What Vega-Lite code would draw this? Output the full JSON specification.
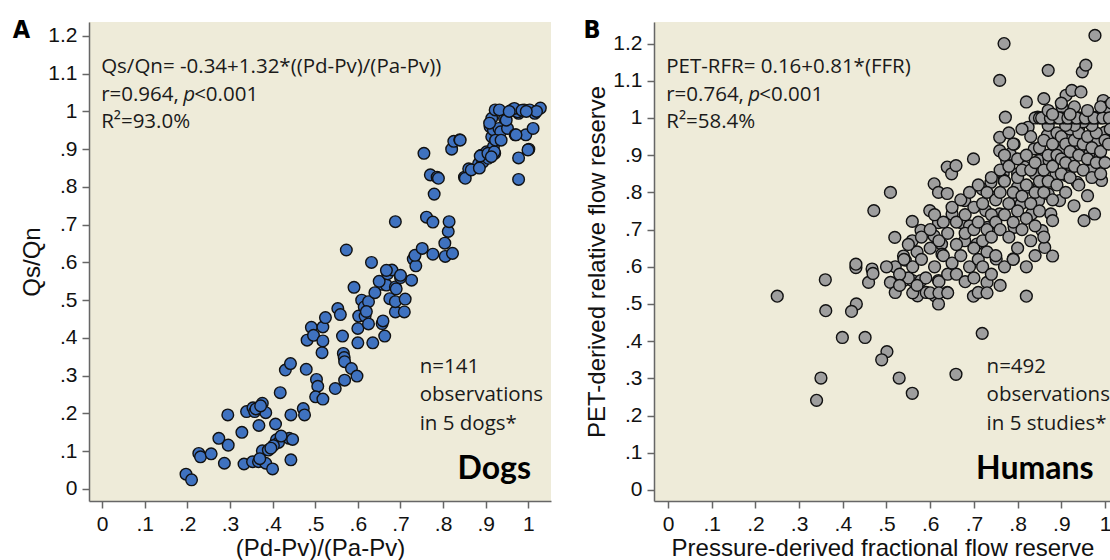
{
"$schema": "https://vega.github.io/schema/vega-lite/v6.json",
"background": "white",
"padding": {"left": 12, "top": 18, "right": 0, "bottom": 0},
"spacing": 103,
"bounds": "flush",
"datasets": {
"dogs": [
{"x":0.197,"y":0.039},{"x":0.21,"y":0.024},{"x":0.227,"y":0.094},{"x":0.231,"y":0.085},{"x":0.256,"y":0.093},{"x":0.274,"y":0.134},{"x":0.295,"y":0.196},{"x":0.296,"y":0.116},{"x":0.287,"y":0.068},{"x":0.328,"y":0.15},{"x":0.333,"y":0.066},{"x":0.339,"y":0.205},{"x":0.354,"y":0.215},{"x":0.358,"y":0.205},{"x":0.353,"y":0.072},{"x":0.367,"y":0.072},{"x":0.368,"y":0.168},{"x":0.376,"y":0.227},{"x":0.384,"y":0.202},{"x":0.376,"y":0.101},{"x":0.384,"y":0.068},{"x":0.39,"y":0.103},{"x":0.4,"y":0.053},{"x":0.407,"y":0.172},{"x":0.409,"y":0.13},{"x":0.414,"y":0.123},{"x":0.418,"y":0.255},{"x":0.43,"y":0.315},{"x":0.442,"y":0.332},{"x":0.439,"y":0.134},{"x":0.443,"y":0.196},{"x":0.443,"y":0.077},{"x":0.447,"y":0.131},{"x":0.472,"y":0.213},{"x":0.475,"y":0.196},{"x":0.479,"y":0.317},{"x":0.481,"y":0.394},{"x":0.491,"y":0.428},{"x":0.496,"y":0.407},{"x":0.503,"y":0.29},{"x":0.506,"y":0.272},{"x":0.501,"y":0.244},{"x":0.518,"y":0.238},{"x":0.516,"y":0.361},{"x":0.518,"y":0.392},{"x":0.518,"y":0.429},{"x":0.524,"y":0.454},{"x":0.547,"y":0.266},{"x":0.553,"y":0.478},{"x":0.559,"y":0.462},{"x":0.564,"y":0.405},{"x":0.566,"y":0.359},{"x":0.568,"y":0.348},{"x":0.569,"y":0.288},{"x":0.569,"y":0.337},{"x":0.585,"y":0.319},{"x":0.591,"y":0.534},{"x":0.598,"y":0.299},{"x":0.6,"y":0.425},{"x":0.6,"y":0.387},{"x":0.602,"y":0.458},{"x":0.609,"y":0.5},{"x":0.615,"y":0.482},{"x":0.617,"y":0.458},{"x":0.625,"y":0.496},{"x":0.625,"y":0.437},{"x":0.635,"y":0.387},{"x":0.657,"y":0.438},{"x":0.659,"y":0.445},{"x":0.663,"y":0.405},{"x":0.657,"y":0.542},{"x":0.667,"y":0.54},{"x":0.675,"y":0.504},{"x":0.688,"y":0.469},{"x":0.688,"y":0.496},{"x":0.688,"y":0.535},{"x":0.709,"y":0.469},{"x":0.711,"y":0.503},{"x":0.726,"y":0.553},
{"x":0.361,"y":0.212},{"x":0.372,"y":0.22},{"x":0.402,"y":0.115},{"x":0.396,"y":0.108},{"x":0.42,"y":0.14},{"x":0.37,"y":0.08},{"x":0.62,"y":0.47},{"x":0.64,"y":0.52},{"x":0.65,"y":0.55},{"x":0.67,"y":0.57},{"x":0.68,"y":0.58},{"x":0.7,"y":0.56},{"x":0.69,"y":0.53},
{"x":0.573,"y":0.633},{"x":0.632,"y":0.6},{"x":0.667,"y":0.579},{"x":0.7,"y":0.566},{"x":0.688,"y":0.708},{"x":0.73,"y":0.609},{"x":0.736,"y":0.591},{"x":0.734,"y":0.619},{"x":0.751,"y":0.637},{"x":0.755,"y":0.889},{"x":0.761,"y":0.72},{"x":0.776,"y":0.707},{"x":0.77,"y":0.832},{"x":0.786,"y":0.826},{"x":0.779,"y":0.781},{"x":0.776,"y":0.622},{"x":0.804,"y":0.651},{"x":0.805,"y":0.616},{"x":0.812,"y":0.682},{"x":0.814,"y":0.708},{"x":0.822,"y":0.624},{"x":0.82,"y":0.9},{"x":0.825,"y":0.921},{"x":0.839,"y":0.925},{"x":0.85,"y":0.826},{"x":0.86,"y":0.848},{"x":0.883,"y":0.861},{"x":0.889,"y":0.884},{"x":0.893,"y":0.866},{"x":0.902,"y":0.893},{"x":0.906,"y":0.876},{"x":0.91,"y":0.96},{"x":0.914,"y":0.933},{"x":0.918,"y":0.907},{"x":0.921,"y":0.889},{"x":0.914,"y":0.982},{"x":0.922,"y":1.004},{"x":0.918,"y":0.951},{"x":0.931,"y":0.955},{"x":0.935,"y":0.946},{"x":0.944,"y":0.982},{"x":0.951,"y":0.955},{"x":0.961,"y":1.004},{"x":0.969,"y":0.938},{"x":0.977,"y":0.995},{"x":0.977,"y":0.877},{"x":0.977,"y":0.82},{"x":0.99,"y":1.004},{"x":0.994,"y":0.938},{"x":1.001,"y":0.9},{"x":1.003,"y":1.004},{"x":1.011,"y":0.955},{"x":1.015,"y":0.995},{"x":1.028,"y":1.009},{"x":1.019,"y":1.0},
{"x":0.84,"y":0.924},{"x":0.789,"y":0.823},{"x":0.852,"y":0.823},{"x":0.866,"y":0.845},{"x":0.885,"y":0.85},{"x":0.887,"y":0.882},{"x":0.905,"y":0.889},{"x":0.92,"y":0.893},{"x":0.923,"y":0.924},{"x":0.936,"y":0.924},{"x":0.948,"y":0.977},{"x":0.932,"y":1.004},{"x":0.975,"y":0.999},{"x":0.971,"y":0.938},{"x":0.967,"y":1.008},{"x":0.909,"y":0.969},{"x":0.913,"y":0.88},{"x":0.999,"y":0.898},{"x":0.985,"y":1.003},{"x":0.995,"y":1.0},{"x":0.955,"y":1.0}
],
"humans": [
{"x":0.25,"y":0.521},{"x":0.36,"y":0.565},{"x":0.361,"y":0.482},{"x":0.35,"y":0.301},{"x":0.34,"y":0.241},{"x":0.399,"y":0.41},{"x":0.451,"y":0.41},{"x":0.431,"y":0.5},{"x":0.42,"y":0.48},{"x":0.501,"y":0.372},{"x":0.489,"y":0.35},{"x":0.529,"y":0.301},{"x":0.559,"y":0.26},{"x":0.659,"y":0.311},{"x":0.719,"y":0.421},{"x":0.82,"y":0.521},{"x":0.699,"y":0.521},{"x":0.71,"y":0.531},{"x":0.73,"y":0.558},{"x":0.459,"y":0.558},{"x":0.509,"y":0.558},{"x":0.52,"y":0.531},{"x":0.539,"y":0.563},{"x":0.559,"y":0.563},{"x":0.571,"y":0.522},{"x":0.591,"y":0.531},{"x":0.611,"y":0.522},{"x":0.619,"y":0.5},{"x":0.639,"y":0.531},{"x":0.579,"y":0.563},{"x":0.619,"y":0.563},
{"x":0.43,"y":0.598},{"x":0.43,"y":0.607},{"x":0.467,"y":0.594},{"x":0.469,"y":0.582},{"x":0.471,"y":0.751},{"x":0.509,"y":0.8},{"x":0.519,"y":0.679},{"x":0.52,"y":0.6},{"x":0.539,"y":0.629},{"x":0.543,"y":0.618},{"x":0.559,"y":0.67},{"x":0.559,"y":0.722},{"x":0.579,"y":0.698},{"x":0.599,"y":0.751},{"x":0.609,"y":0.823},{"x":0.619,"y":0.8},{"x":0.639,"y":0.797},{"x":0.639,"y":0.868},{"x":0.649,"y":0.85},{"x":0.659,"y":0.872},{"x":0.609,"y":0.683},{"x":0.619,"y":0.719},{"x":0.626,"y":0.661},{"x":0.627,"y":0.634},{"x":0.65,"y":0.742},{"x":0.679,"y":0.778},{"x":0.671,"y":0.719},{"x":0.679,"y":0.67},{"x":0.699,"y":0.89},{"x":0.707,"y":0.661},{"x":0.69,"y":0.71},{"x":0.719,"y":0.809},{"x":0.727,"y":0.751},{"x":0.739,"y":0.827},{"x":0.731,"y":0.706},{"x":0.749,"y":0.787},{"x":0.751,"y":0.621},{"x":0.759,"y":0.742},{"x":0.759,"y":0.948},{"x":0.759,"y":1.101},{"x":0.769,"y":1.2},{"x":0.772,"y":1.002},{"x":0.759,"y":0.912},{"x":0.767,"y":0.85},{"x":0.769,"y":0.832},{"x":0.775,"y":0.886},{"x":0.783,"y":0.903},{"x":0.792,"y":0.93},{"x":0.792,"y":0.778},{"x":0.79,"y":0.621},{"x":0.792,"y":0.706},{"x":0.8,"y":0.85},{"x":0.8,"y":0.814},{"x":0.808,"y":0.769},{"x":0.816,"y":0.868},{"x":0.82,"y":1.043},{"x":0.824,"y":0.975},{"x":0.824,"y":0.814},{"x":0.832,"y":0.742},{"x":0.838,"y":0.917},{"x":0.84,"y":0.85},{"x":0.846,"y":1.002},{"x":0.848,"y":0.778},{"x":0.849,"y":0.886},{"x":0.856,"y":0.697},{"x":0.86,"y":1.052},{"x":0.862,"y":0.652},{"x":0.868,"y":0.953},{"x":0.87,"y":1.128},{"x":0.87,"y":0.796},{"x":0.872,"y":0.886},{"x":0.876,"y":0.742},{"x":0.88,"y":0.724},{"x":0.88,"y":0.629},{"x":0.888,"y":0.85},{"x":0.892,"y":1.002},{"x":0.896,"y":0.778},{"x":0.9,"y":0.912},{"x":0.902,"y":1.029},{"x":0.911,"y":1.061},{"x":0.912,"y":0.845},{"x":0.916,"y":0.957},{"x":0.92,"y":0.886},{"x":0.924,"y":1.074},{"x":0.929,"y":0.764},{"x":0.932,"y":1.002},{"x":0.936,"y":0.827},{"x":0.94,"y":0.975},{"x":0.942,"y":0.93},{"x":0.945,"y":1.07},{"x":0.948,"y":1.124},{"x":0.952,"y":0.724},{"x":0.956,"y":1.142},{"x":0.956,"y":1.002},{"x":0.96,"y":0.791},{"x":0.964,"y":0.903},{"x":0.968,"y":0.859},{"x":0.976,"y":0.742},{"x":0.977,"y":1.222},{"x":0.98,"y":1.002},{"x":0.984,"y":0.939},{"x":0.988,"y":0.894},{"x":0.992,"y":0.832},{"x":0.996,"y":1.047},{"x":1.0,"y":1.002},{"x":1.0,"y":0.962},{"x":1.004,"y":1.029},
{"x":0.55,"y":0.57},{"x":0.56,"y":0.6},{"x":0.57,"y":0.64},{"x":0.58,"y":0.62},{"x":0.58,"y":0.68},{"x":0.59,"y":0.57},{"x":0.6,"y":0.65},{"x":0.6,"y":0.7},{"x":0.61,"y":0.6},{"x":0.61,"y":0.74},{"x":0.62,"y":0.67},{"x":0.62,"y":0.56},{"x":0.63,"y":0.63},{"x":0.63,"y":0.72},{"x":0.64,"y":0.58},{"x":0.64,"y":0.69},{"x":0.65,"y":0.61},{"x":0.65,"y":0.76},{"x":0.56,"y":0.53},{"x":0.57,"y":0.55},{"x":0.6,"y":0.53},{"x":0.62,"y":0.53},{"x":0.64,"y":0.53},{"x":0.55,"y":0.66},{"x":0.53,"y":0.58},{"x":0.54,"y":0.62},{"x":0.5,"y":0.6},{"x":0.53,"y":0.55},
{"x":0.66,"y":0.66},{"x":0.66,"y":0.72},{"x":0.67,"y":0.63},{"x":0.67,"y":0.78},{"x":0.68,"y":0.69},{"x":0.68,"y":0.74},{"x":0.69,"y":0.6},{"x":0.69,"y":0.8},{"x":0.7,"y":0.65},{"x":0.7,"y":0.7},{"x":0.7,"y":0.76},{"x":0.71,"y":0.62},{"x":0.71,"y":0.72},{"x":0.71,"y":0.82},{"x":0.72,"y":0.67},{"x":0.72,"y":0.77},{"x":0.73,"y":0.7},{"x":0.73,"y":0.64},{"x":0.73,"y":0.8},{"x":0.74,"y":0.74},{"x":0.74,"y":0.68},{"x":0.74,"y":0.84},{"x":0.75,"y":0.72},{"x":0.75,"y":0.78},{"x":0.75,"y":0.63},{"x":0.66,"y":0.58},{"x":0.68,"y":0.56},{"x":0.7,"y":0.57},{"x":0.72,"y":0.6},{"x":0.74,"y":0.58},{"x":0.76,"y":0.55},{"x":0.73,"y":0.53},{"x":0.77,"y":0.6},
{"x":0.76,"y":0.7},{"x":0.76,"y":0.8},{"x":0.76,"y":0.86},{"x":0.77,"y":0.74},{"x":0.77,"y":0.83},{"x":0.77,"y":0.9},{"x":0.78,"y":0.68},{"x":0.78,"y":0.77},{"x":0.78,"y":0.87},{"x":0.79,"y":0.72},{"x":0.79,"y":0.8},{"x":0.79,"y":0.93},{"x":0.8,"y":0.75},{"x":0.8,"y":0.84},{"x":0.8,"y":0.89},{"x":0.81,"y":0.7},{"x":0.81,"y":0.79},{"x":0.81,"y":0.86},{"x":0.82,"y":0.73},{"x":0.82,"y":0.82},{"x":0.82,"y":0.9},{"x":0.83,"y":0.77},{"x":0.83,"y":0.86},{"x":0.83,"y":0.95},{"x":0.84,"y":0.71},{"x":0.84,"y":0.8},{"x":0.84,"y":0.88},{"x":0.85,"y":0.75},{"x":0.85,"y":0.83},{"x":0.85,"y":0.92},{"x":0.78,"y":0.96},{"x":0.81,"y":0.97},{"x":0.8,"y":0.65},{"x":0.83,"y":0.67},{"x":0.84,"y":0.63},{"x":0.86,"y":0.68},{"x":0.79,"y":0.62},{"x":0.82,"y":0.6},
{"x":0.86,"y":0.8},{"x":0.86,"y":0.86},{"x":0.86,"y":0.94},{"x":0.87,"y":0.83},{"x":0.87,"y":0.9},{"x":0.87,"y":0.98},{"x":0.88,"y":0.78},{"x":0.88,"y":0.87},{"x":0.88,"y":0.93},{"x":0.89,"y":0.82},{"x":0.89,"y":0.9},{"x":0.89,"y":0.96},{"x":0.9,"y":0.85},{"x":0.9,"y":0.89},{"x":0.9,"y":0.95},{"x":0.91,"y":0.8},{"x":0.91,"y":0.88},{"x":0.91,"y":0.93},{"x":0.92,"y":0.84},{"x":0.92,"y":0.91},{"x":0.92,"y":0.97},{"x":0.93,"y":0.87},{"x":0.93,"y":0.94},{"x":0.94,"y":0.82},{"x":0.94,"y":0.9},{"x":0.94,"y":0.96},{"x":0.95,"y":0.86},{"x":0.95,"y":0.93},{"x":0.96,"y":0.89},{"x":0.96,"y":0.95},{"x":0.97,"y":0.84},{"x":0.97,"y":0.92},{"x":0.98,"y":0.88},{"x":0.98,"y":0.96},{"x":0.99,"y":0.91},{"x":0.99,"y":0.85},{"x":1.0,"y":0.94},{"x":1.0,"y":0.88},{"x":0.97,"y":0.98},{"x":0.95,"y":0.99},{"x":0.93,"y":0.98},{"x":0.91,"y":0.98},
{"x":0.84,"y":1.0},{"x":0.85,"y":1.0},{"x":0.86,"y":1.0},{"x":0.87,"y":1.0},{"x":0.88,"y":1.0},{"x":0.89,"y":1.0},{"x":0.9,"y":1.0},{"x":0.91,"y":1.0},{"x":0.92,"y":1.0},{"x":0.93,"y":1.0},{"x":0.94,"y":1.0},{"x":0.95,"y":1.0},{"x":0.96,"y":1.0},{"x":0.97,"y":1.0},{"x":0.98,"y":1.0},{"x":0.99,"y":1.0},{"x":0.855,"y":1.0},{"x":0.875,"y":1.0},{"x":0.895,"y":1.0},{"x":0.915,"y":1.0},{"x":0.935,"y":1.0},{"x":0.955,"y":1.0},{"x":0.975,"y":1.0},{"x":0.995,"y":1.0},
{"x":0.87,"y":1.02},{"x":0.9,"y":1.04},{"x":0.93,"y":1.03},{"x":0.96,"y":1.02},{"x":0.99,"y":1.03},{"x":0.88,"y":1.01},{"x":0.92,"y":1.01},
{"x":1.01,"y":1.0},{"x":1.012,"y":0.97},{"x":1.008,"y":0.93},{"x":1.015,"y":1.04}
]
},
"config": {
"view": {"fill": "#EEEBD9", "stroke": null},
"axis": {"grid": false, "domainColor": "#666666", "domainWidth": 1.5, "tickColor": "#666666", "tickWidth": 1.5, "tickSize": 7, "labelFont": "Liberation Sans", "labelFontSize": 21, "labelColor": "#111111", "labelPadding": 5, "labelFlush": false, "labelOverlap": false, "titleFont": "Liberation Sans", "titleFontSize": 24, "titleFontWeight": "normal", "titleColor": "#111111"},
"axisX": {"titlePadding": 2},
"axisY": {"titlePadding": 3}
},
"hconcat": [
{
"width": 462, "height": 479,
"resolve": {"axis": {"x": "independent", "y": "independent"}},
"layer": [
{"data": {"name": "dogs"},
 "mark": {"type": "circle", "size": 135, "fill": "#3F72C0", "stroke": "#111111", "strokeWidth": 1.4, "opacity": 1, "clip": true},
 "encoding": {
  "x": {"field": "x", "type": "quantitative", "title": "(Pd-Pv)/(Pa-Pv)", "scale": {"domain": [-0.0305, 1.053], "nice": false, "zero": false}, "axis": {"values": [0,0.1,0.2,0.3,0.4,0.5,0.6,0.7,0.8,0.9,1], "labelOverlap": false, "labelExpr": "datum.value == 0 ? '0' : datum.value == 1 ? '1' : replace(format(datum.value, '.1f'), '0.', '.')"}},
  "y": {"field": "y", "type": "quantitative", "title": "Qs/Qn", "scale": {"domain": [-0.032, 1.237], "nice": false, "zero": false}, "axis": {"values": [0,0.1,0.2,0.3,0.4,0.5,0.6,0.7,0.8,0.9,1,1.1,1.2], "labelOverlap": false, "labelBound": false, "labelExpr": "datum.value == 0 ? '0' : datum.value == 1 ? '1' : replace(format(datum.value, '.1f'), '0.', '.')"}}
 }},
{"data": {"values": [{}]}, "mark": {"type": "text", "text": "A", "align": "center", "baseline": "alphabetic", "font": "Liberation Sans Narrow, DejaVu Sans Condensed, sans-serif", "fontWeight": "bold", "fontSize": 25, "color": "#000000"}, "encoding": {"x": {"datum": -0.189, "type": "quantitative", "axis": null}, "y": {"datum": 1.194, "type": "quantitative", "axis": null}}},
{"data": {"values": [{}]}, "mark": {"type": "text", "text": "Qs/Qn= -0.34+1.32*((Pd-Pv)/(Pa-Pv))", "align": "left", "baseline": "alphabetic", "font": "Open Sans", "fontSize": 20.5, "color": "#1a1a1a"}, "encoding": {"x": {"datum": -0.002, "type": "quantitative", "axis": null}, "y": {"datum": 1.103, "type": "quantitative", "axis": null}}},
{"data": {"values": [{}]}, "mark": {"type": "text", "text": "r=0.964, ", "align": "left", "baseline": "alphabetic", "font": "Open Sans", "fontSize": 20.5, "color": "#1a1a1a"}, "encoding": {"x": {"datum": -0.002, "type": "quantitative", "axis": null}, "y": {"datum": 1.029, "type": "quantitative", "axis": null}}},
{"data": {"values": [{}]}, "mark": {"type": "text", "text": "p", "align": "left", "baseline": "alphabetic", "font": "Open Sans", "fontStyle": "italic", "fontSize": 20.5, "color": "#1a1a1a", "dx": 82}, "encoding": {"x": {"datum": -0.002, "type": "quantitative", "axis": null}, "y": {"datum": 1.029, "type": "quantitative", "axis": null}}},
{"data": {"values": [{}]}, "mark": {"type": "text", "text": "<0.001", "align": "left", "baseline": "alphabetic", "font": "Open Sans", "fontSize": 20.5, "color": "#1a1a1a", "dx": 93}, "encoding": {"x": {"datum": -0.002, "type": "quantitative", "axis": null}, "y": {"datum": 1.029, "type": "quantitative", "axis": null}}},
{"data": {"values": [{}]}, "mark": {"type": "text", "text": "R²=93.0%", "align": "left", "baseline": "alphabetic", "font": "Open Sans", "fontSize": 20.5, "color": "#1a1a1a"}, "encoding": {"x": {"datum": -0.002, "type": "quantitative", "axis": null}, "y": {"datum": 0.9555, "type": "quantitative", "axis": null}}},
{"data": {"values": [{}]}, "mark": {"type": "text", "text": ["n=141", "observations", "in 5 dogs*"], "lineHeight": 28.5, "align": "left", "baseline": "alphabetic", "font": "Open Sans", "fontSize": 20.5, "color": "#1a1a1a"}, "encoding": {"x": {"datum": 0.745, "type": "quantitative", "axis": null}, "y": {"datum": 0.308, "type": "quantitative", "axis": null}}},
{"data": {"values": [{}]}, "mark": {"type": "text", "text": "Dogs", "align": "left", "baseline": "alphabetic", "font": "Lato", "fontWeight": "bold", "fontSize": 32, "color": "#000000"}, "encoding": {"x": {"datum": 0.834, "type": "quantitative", "axis": null}, "y": {"datum": 0.0257, "type": "quantitative", "axis": null}}}
]
},
{
"width": 457, "height": 479,
"resolve": {"axis": {"x": "independent", "y": "independent"}},
"layer": [
{"data": {"name": "humans"},
 "mark": {"type": "circle", "size": 140, "fill": "#9E9E9E", "stroke": "#111111", "strokeWidth": 1.4, "opacity": 1, "clip": true},
 "encoding": {
  "x": {"field": "x", "type": "quantitative", "title": "Pressure-derived fractional flow reserve", "scale": {"domain": [-0.032, 1.0137], "nice": false, "zero": false}, "axis": {"values": [0,0.1,0.2,0.3,0.4,0.5,0.6,0.7,0.8,0.9,1], "labelOverlap": false, "labelExpr": "datum.value == 0 ? '0' : datum.value == 1 ? '1' : replace(format(datum.value, '.1f'), '0.', '.')"}},
  "y": {"field": "y", "type": "quantitative", "title": "PET-derived relative flow reserve", "scale": {"domain": [-0.0296, 1.258], "nice": false, "zero": false}, "axis": {"values": [0,0.1,0.2,0.3,0.4,0.5,0.6,0.7,0.8,0.9,1,1.1,1.2], "labelOverlap": false, "labelBound": false, "labelExpr": "datum.value == 0 ? '0' : datum.value == 1 ? '1' : replace(format(datum.value, '.1f'), '0.', '.')"}}
 }},
{"data": {"values": [{}]}, "mark": {"type": "text", "text": "B", "align": "center", "baseline": "alphabetic", "font": "Liberation Sans Narrow, DejaVu Sans Condensed, sans-serif", "fontWeight": "bold", "fontSize": 25, "color": "#000000"}, "encoding": {"x": {"datum": -0.174, "type": "quantitative", "axis": null}, "y": {"datum": 1.214, "type": "quantitative", "axis": null}}},
{"data": {"values": [{}]}, "mark": {"type": "text", "text": "PET-RFR= 0.16+0.81*(FFR)", "align": "left", "baseline": "alphabetic", "font": "Open Sans", "fontSize": 20.5, "color": "#1a1a1a"}, "encoding": {"x": {"datum": -0.004, "type": "quantitative", "axis": null}, "y": {"datum": 1.122, "type": "quantitative", "axis": null}}},
{"data": {"values": [{}]}, "mark": {"type": "text", "text": "r=0.764, ", "align": "left", "baseline": "alphabetic", "font": "Open Sans", "fontSize": 20.5, "color": "#1a1a1a"}, "encoding": {"x": {"datum": -0.004, "type": "quantitative", "axis": null}, "y": {"datum": 1.0465, "type": "quantitative", "axis": null}}},
{"data": {"values": [{}]}, "mark": {"type": "text", "text": "p", "align": "left", "baseline": "alphabetic", "font": "Open Sans", "fontStyle": "italic", "fontSize": 20.5, "color": "#1a1a1a", "dx": 82}, "encoding": {"x": {"datum": -0.004, "type": "quantitative", "axis": null}, "y": {"datum": 1.0465, "type": "quantitative", "axis": null}}},
{"data": {"values": [{}]}, "mark": {"type": "text", "text": "<0.001", "align": "left", "baseline": "alphabetic", "font": "Open Sans", "fontSize": 20.5, "color": "#1a1a1a", "dx": 93}, "encoding": {"x": {"datum": -0.004, "type": "quantitative", "axis": null}, "y": {"datum": 1.0465, "type": "quantitative", "axis": null}}},
{"data": {"values": [{}]}, "mark": {"type": "text", "text": "R²=58.4%", "align": "left", "baseline": "alphabetic", "font": "Open Sans", "fontSize": 20.5, "color": "#1a1a1a"}, "encoding": {"x": {"datum": -0.004, "type": "quantitative", "axis": null}, "y": {"datum": 0.972, "type": "quantitative", "axis": null}}},
{"data": {"values": [{}]}, "mark": {"type": "text", "text": ["n=492", "observations", "in 5 studies*"], "lineHeight": 28.5, "align": "left", "baseline": "alphabetic", "font": "Open Sans", "fontSize": 20.5, "color": "#1a1a1a"}, "encoding": {"x": {"datum": 0.729, "type": "quantitative", "axis": null}, "y": {"datum": 0.315, "type": "quantitative", "axis": null}}},
{"data": {"values": [{}]}, "mark": {"type": "text", "text": "Humans", "align": "left", "baseline": "alphabetic", "font": "Lato", "fontWeight": "bold", "fontSize": 32, "color": "#000000"}, "encoding": {"x": {"datum": 0.705, "type": "quantitative", "axis": null}, "y": {"datum": 0.029, "type": "quantitative", "axis": null}}}
]
}
]
}
